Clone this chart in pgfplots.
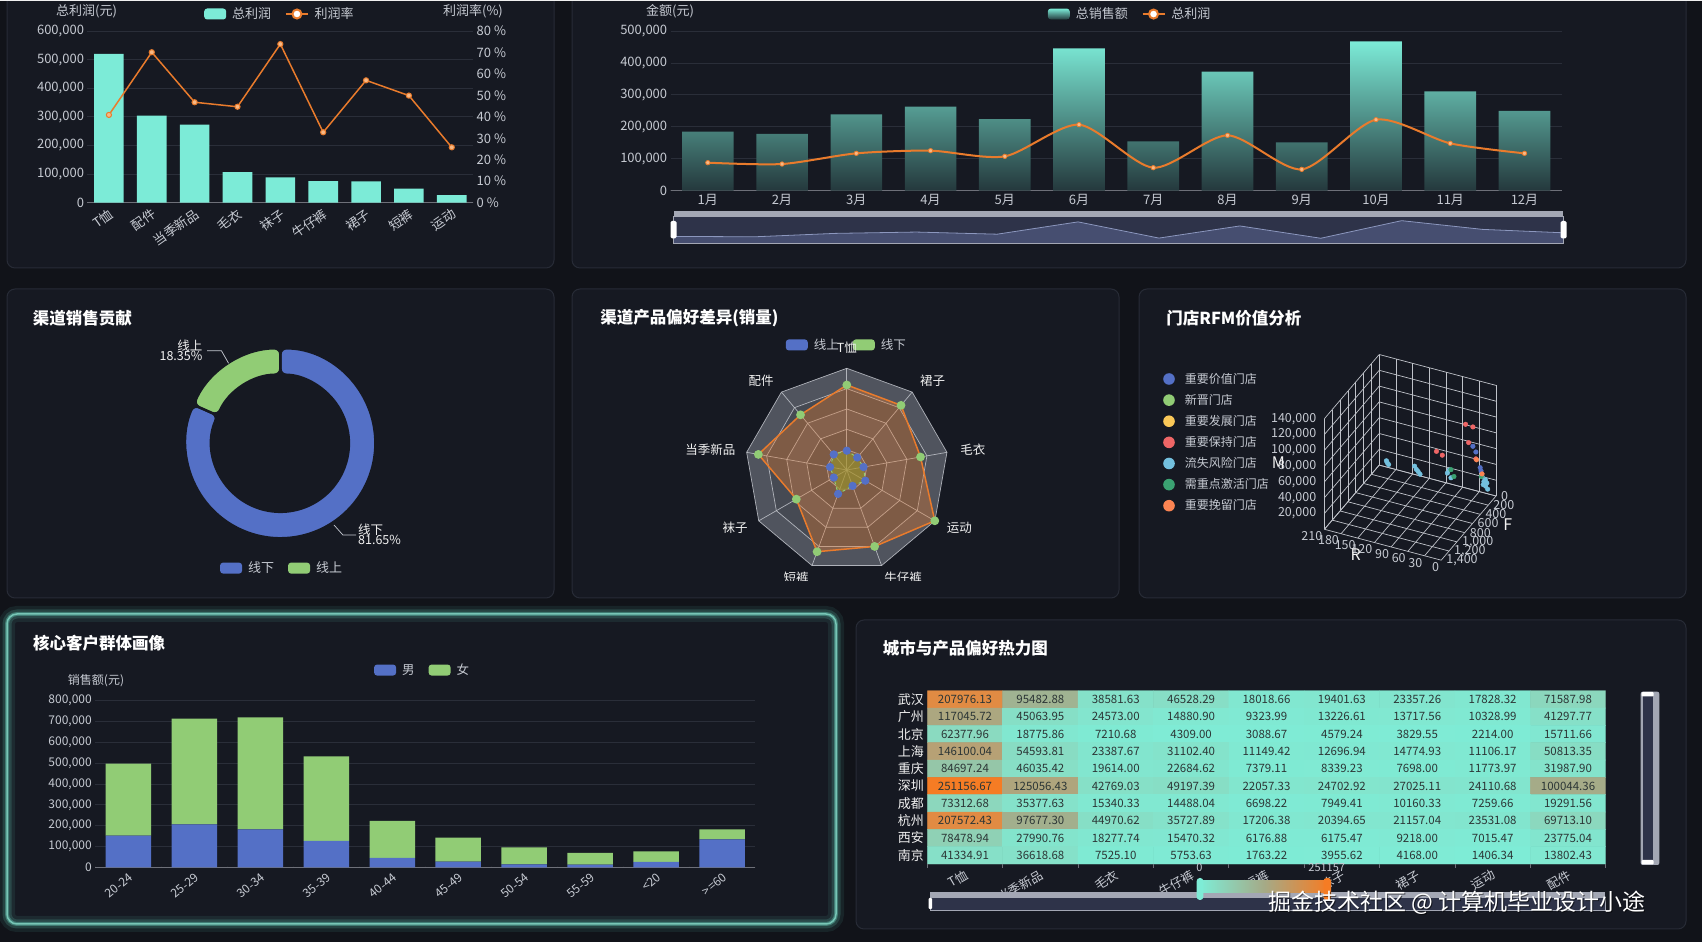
\documentclass[border=0pt]{standalone}
\usepackage{fontspec}
\setmainfont{Noto Sans CJK SC}
\usepackage{pgfplots}
\usepackage{pgfplotstable}
\pgfplotsset{compat=1.18}

\definecolor{bgc}{HTML}{111319}
\definecolor{panelc}{HTML}{161922}
\definecolor{pborder}{HTML}{272B36}
\definecolor{tickc}{HTML}{C6CAD2}
\definecolor{gridc}{HTML}{2A2E39}
\definecolor{axisc}{HTML}{6E7079}
\definecolor{aqua}{HTML}{7CEBD7}
\definecolor{barbot}{HTML}{24383C}
\definecolor{orng}{HTML}{E97B2C}
\definecolor{orngl}{HTML}{F8B985}
\definecolor{eblue}{HTML}{5470C6}
\definecolor{egreen}{HTML}{91CC75}
\definecolor{eyellow}{HTML}{FAC858}
\definecolor{ered}{HTML}{EE6666}
\definecolor{ecyan}{HTML}{73C0DE}
\definecolor{edkgreen}{HTML}{3BA272}
\definecolor{eorange}{HTML}{FC8452}
\definecolor{radarA}{HTML}{50545E}
\definecolor{radarB}{HTML}{464A53}
\definecolor{radarline}{HTML}{C3C6CD}
\definecolor{slbar}{HTML}{A3A7B4}
\definecolor{slbg}{HTML}{2E3349}
\definecolor{slarea}{HTML}{464E70}
\definecolor{slline}{HTML}{8C97BE}
\definecolor{glow}{HTML}{5EC1AE}
\definecolor{celltext}{HTML}{2C3636}
\definecolor{grid3d}{HTML}{BFC2C9}
\definecolor{heatlow}{HTML}{7EECD6}
\definecolor{heatmid}{HTML}{A5AA87}
\definecolor{heathi}{HTML}{F57C24}

\newcommand{\fs}[1]{\fontsize{#1}{#1}\selectfont}

\pgfplotsset{
  every axis/.append style={
    scale only axis,
    /pgf/number format/assume math mode=true,
    tick label style={text=tickc, font=\fs{13}},
    axis line style={draw=axisc, line width=0.8pt},
    grid style={draw=gridc, line width=0.8pt},
    tick style={draw=none},
    major tick length=0pt,
    legend columns=-1,
    legend cell align=left,
    legend style={draw=none, fill=none, text=tickc, font=\fs{13},
      /tikz/every odd column/.append style={column sep=4pt},
      /tikz/every even column/.append style={column sep=12pt}},
  },
  boxlegend/.style={legend image code/.code={\fill[##1, draw=none, rounded corners=3pt] (0pt,-5.5pt) rectangle (22pt,5.5pt);}},
  dotlegend/.style={legend image code/.code={\fill[##1, draw=none] (6pt,0pt) circle (5.8pt);}},
}

\pgfplotstableread{
x y v
0 0 207976.13
1 0 95482.88
2 0 38581.63
3 0 46528.29
4 0 18018.66
5 0 19401.63
6 0 23357.26
7 0 17828.32
8 0 71587.98
0 1 117045.72
1 1 45063.95
2 1 24573.00
3 1 14880.90
4 1 9323.99
5 1 13226.61
6 1 13717.56
7 1 10328.99
8 1 41297.77
0 2 62377.96
1 2 18775.86
2 2 7210.68
3 2 4309.00
4 2 3088.67
5 2 4579.24
6 2 3829.55
7 2 2214.00
8 2 15711.66
0 3 146100.04
1 3 54593.81
2 3 23387.67
3 3 31102.40
4 3 11149.42
5 3 12696.94
6 3 14774.93
7 3 11106.17
8 3 50813.35
0 4 84697.24
1 4 46035.42
2 4 19614.00
3 4 22684.62
4 4 7379.11
5 4 8339.23
6 4 7698.00
7 4 11773.97
8 4 31987.90
0 5 251156.67
1 5 125056.43
2 5 42769.03
3 5 49197.39
4 5 22057.33
5 5 24702.92
6 5 27025.11
7 5 24110.68
8 5 100044.36
0 6 73312.68
1 6 35377.63
2 6 15340.33
3 6 14488.04
4 6 6698.22
5 6 7949.41
6 6 10160.33
7 6 7259.66
8 6 19291.56
0 7 207572.43
1 7 97677.30
2 7 44970.62
3 7 35727.89
4 7 17206.38
5 7 20394.65
6 7 21157.04
7 7 23531.08
8 7 69713.10
0 8 78478.94
1 8 27990.76
2 8 18277.74
3 8 15470.32
4 8 6176.88
5 8 6175.47
6 8 9218.00
7 8 7015.47
8 8 23775.04
0 9 41334.91
1 9 36618.68
2 9 7525.10
3 9 5753.63
4 9 1763.22
5 9 3955.62
6 9 4168.00
7 9 1406.34
8 9 13802.43
}\heat

\def\offline{81.65}
\def\online{18.35}

\begin{document}
\begin{tikzpicture}[x=1pt,y=1pt]
\path[use as bounding box] (0,0) rectangle (1702,942);
\clip (0,0) rectangle (1702,942);
\fill[bgc] (0,0) rectangle (1702,942);

\coordinate (tlpos) at (87.5,739.3);
\coordinate (trpos) at (670.7,751.3);
\coordinate (slpos) at (673.6,698.7);
\coordinate (dnpos) at (280.4,498.7);
\coordinate (rdpos) at (846.8,472);
\coordinate (tdpos) at (1496,446);
\coordinate (lgpos) at (1163,571);
\coordinate (blpos) at (95.3,74.7);
\coordinate (hmpos) at (927.3,78);

% ---------- panels ----------
\fill[panelc, draw=pborder, line width=1pt, rounded corners=8pt] (7,674) rectangle (554,955);
\fill[panelc, draw=pborder, line width=1pt, rounded corners=8pt] (572,674) rectangle (1686,955);
\fill[panelc, draw=pborder, line width=1pt, rounded corners=8pt] (7,344) rectangle (554,653);
\fill[panelc, draw=pborder, line width=1pt, rounded corners=8pt] (572,344) rectangle (1119,653);
\fill[panelc, draw=pborder, line width=1pt, rounded corners=8pt] (1139,344) rectangle (1686,653);
\fill[panelc, draw=pborder, line width=1pt, rounded corners=8pt] (856,13) rectangle (1686,322);
\fill[panelc, rounded corners=10pt] (7,18) rectangle (836,328);
\draw[glow, opacity=0.10, line width=16pt, rounded corners=10pt] (7,18) rectangle (836,328);
\draw[glow, opacity=0.20, line width=9pt, rounded corners=10pt] (7,18) rectangle (836,328);
\draw[glow, opacity=0.45, line width=4pt, rounded corners=10pt] (7,18) rectangle (836,328);
\draw[glow!80!white, opacity=0.9, line width=1.5pt, rounded corners=10pt] (7,18) rectangle (836,328);
\fill[white!88!gray] (0,940.5) rectangle (1702,942);

% ---------- top-left: profit by category ----------
\begin{axis}[at={(tlpos)}, anchor=south west, width=385.7pt, height=171.7pt,
  xmin=-0.5, xmax=8.5, ymin=0, ymax=600000, ytick={0,100000,...,600000},
  scaled y ticks=false, yticklabel style={/pgf/number format/fixed},
  ymajorgrids, axis x line*=bottom, axis y line*=left, y axis line style={draw=none},
  xtick={0,...,8}, xticklabels={T恤,配件,当季新品,毛衣,袜子,牛仔裤,裙子,短裤,运动},
  xticklabel style={rotate=35, anchor=north east}]
\addplot[ybar, bar width=29.6pt, fill=aqua, draw=none] coordinates {(0,519600) (1,304000) (2,272600) (3,107200) (4,88500) (5,75700) (6,74600) (7,48900) (8,26800)};
\pgfplotsinvokeforeach{-0.5,0.5,1.5,2.5,3.5,4.5,5.5,6.5,7.5,8.5}{\draw[axisc, line width=0.8pt] (axis cs:#1,0) -- ++(0,-5pt);}
\end{axis}
\begin{axis}[at={(tlpos)}, anchor=south west, width=385.7pt, height=171.7pt,
  xmin=-0.5, xmax=8.5, ymin=0, ymax=80, ytick={0,10,...,80},
  axis y line*=right, axis x line=none, y axis line style={draw=none},
  yticklabel={\pgfmathprintnumber[fixed]{\tick}~\%},
  legend style={at={(0.499,1.099)}, anchor=center}]
\addlegendimage{boxlegend, fill=aqua}\addlegendentry{总利润}
\addplot[orng, line width=1.5pt, mark=*, mark size=2.6pt, mark options={fill=orngl, draw=orng, line width=1pt},
  legend image code/.code={\draw[orng, line width=1.5pt] (0pt,0pt) -- (22pt,0pt); \draw[orng, fill=white, line width=2pt] (11pt,0pt) circle (4.5pt);}]
  coordinates {(0,40.9) (1,70.1) (2,46.8) (3,44.7) (4,73.9) (5,32.8) (6,57.0) (7,49.9) (8,25.8)};
\addlegendentry{利润率}
\end{axis}
\node[font=\fs{13}, text=tickc] at (86.6,930.3) {总利润(元)};
\node[font=\fs{13}, text=tickc] at (473,930.3) {利润率(\%)};

% ---------- top-right: monthly sales ----------
\begin{axis}[at={(trpos)}, anchor=south west, width=890.9pt, height=159.7pt,
  xmin=-0.5, xmax=11.5, ymin=0, ymax=500000, ytick={0,100000,...,500000},
  scaled y ticks=false, yticklabel style={/pgf/number format/fixed},
  ymajorgrids, axis x line*=bottom, axis y line*=left, y axis line style={draw=none},
  xtick={0,...,11}, xticklabels={1月,2月,3月,4月,5月,6月,7月,8月,9月,10月,11月,12月},
  legend style={at={(0.5156,1.106)}, anchor=center}]
\addplot[ybar, bar width=51.6pt, draw=none, top color=aqua, bottom color=barbot,
  legend image code/.code={\fill[top color=aqua, bottom color=barbot, rounded corners=3pt] (0pt,-5.5pt) rectangle (22pt,5.5pt);}]
  coordinates {(0,184800) (1,177500) (2,239000) (3,263000) (4,224400) (5,445700) (6,154500) (7,372700) (8,151400) (9,467600) (10,311000) (11,249500)};
\addlegendentry{总销售额}
\addplot[orng, line width=2pt, smooth, tension=0.45, mark=*, mark size=2.2pt, mark options={fill=orngl, draw=orng, line width=0.8pt},
  legend image code/.code={\draw[orng, line width=1.5pt] (0pt,0pt) -- (22pt,0pt); \draw[orng, fill=white, line width=2pt] (11pt,0pt) circle (4.5pt);}]
  coordinates {(0,87700) (1,83500) (2,116900) (3,125300) (4,107500) (5,206700) (6,72000) (7,173300) (8,66800) (9,222300) (10,148200) (11,116900)};
\addlegendentry{总利润}
\pgfplotsinvokeforeach{-0.5,0.5,1.5,2.5,3.5,4.5,5.5,6.5,7.5,8.5,9.5,10.5,11.5}{\draw[axisc, line width=0.8pt] (axis cs:#1,0) -- ++(0,-5pt);}
\end{axis}
\node[font=\fs{13}, text=tickc] at (670,930.3) {金额(元)};

% slider
\fill[slbg] (673.6,698.7) rectangle (1563.4,725.3);
\begin{axis}[at={(slpos)}, anchor=south west, width=889.8pt, height=26.6pt,
  xmin=0, xmax=11, ymin=61000, ymax=539000, hide axis]
\addplot[fill=slarea, draw=none] coordinates {(0,184800) (1,177500) (2,239000) (3,263000) (4,224400) (5,445700) (6,154500) (7,372700) (8,151400) (9,467600) (10,311000) (11,249500)} \closedcycle;
\addplot[slline, line width=0.8pt] coordinates {(0,184800) (1,177500) (2,239000) (3,263000) (4,224400) (5,445700) (6,154500) (7,372700) (8,151400) (9,467600) (10,311000) (11,249500)};
\end{axis}
\draw[slbar, line width=0.8pt] (673.6,698.7) rectangle (1563.4,725.3);
\fill[slbar] (673.6,725.3) rectangle (1563.4,731.3);
\fill[white, rounded corners=1.5pt] (670.5,703.5) rectangle (676.5,721);
\fill[white, rounded corners=1.5pt] (1560.5,703.5) rectangle (1566.5,721);

% ---------- donut ----------
\node[font=\fs{16.5}\bfseries, text=white, anchor=west] at (29.3,623.7) {渠道销售贡献};
\pgfmathsetmacro{\aend}{90-3.6*\offline}
\begin{axis}[at={(dnpos)}, anchor=center, x=1pt, y=1pt,
  xmin=-120, xmax=120, ymin=-120, ymax=120, hide axis, clip=false,
  legend style={at={(0.507,-0.02)}, anchor=center}]
\addlegendimage{boxlegend, fill=eblue}\addlegendentry{线下}
\addlegendimage{boxlegend, fill=egreen}\addlegendentry{线上}
\fill[eblue, draw=panelc, line width=2.5pt, rounded corners=6pt] (axis cs:0,95) arc[start angle=90, end angle=\aend, radius=95pt] -- (axis cs:{68.5*cos(\aend)},{68.5*sin(\aend)}) arc[start angle=\aend, end angle=90, radius=68.5pt] -- cycle;
\fill[egreen, draw=panelc, line width=2.5pt, rounded corners=6pt] (axis cs:{95*cos(\aend)},{95*sin(\aend)}) arc[start angle=\aend, end angle=-270, radius=95pt] -- (axis cs:0,68.5) arc[start angle=90, end angle={\aend+360}, radius=68.5pt] -- cycle;
\end{axis}
\draw[tickc, line width=0.7pt] (207,591.3) -- (221.4,591.3) -- (228.6,578.7);
\node[font=\fs{12.5}, text=white!90!gray, anchor=east, inner sep=0pt] at (202.5,596.3) {线上};
\node[font=\fs{12.5}, text=white!90!gray, anchor=east, inner sep=0pt] at (202.5,585.8) {18.35\%};
\draw[tickc, line width=0.7pt] (334,417) -- (342.9,407) -- (356,407);
\node[font=\fs{12.5}, text=white!90!gray, anchor=west, inner sep=0pt] at (358,412.7) {线下};
\node[font=\fs{12.5}, text=white!90!gray, anchor=west, inner sep=0pt] at (358,402.5) {81.65\%};

% ---------- radar ----------
\node[font=\fs{16.5}\bfseries, text=white, anchor=west] at (596.8,623.7) {渠道产品偏好差异(销量)};
\begin{scope}[shift={(846.8,472)}]
\foreach \r/\c in {101.7/radarA, 81.36/radarB, 61.02/radarA, 40.68/radarB, 20.34/radarA}{
  \fill[\c] (90:\r) -- (130:\r) -- (170:\r) -- (210:\r) -- (250:\r) -- (290:\r) -- (330:\r) -- (10:\r) -- (50:\r) -- cycle;
}
\foreach \r in {101.7, 81.36, 61.02, 40.68, 20.34}{
  \draw[radarline, line width=0.7pt, opacity=0.85] (90:\r) -- (130:\r) -- (170:\r) -- (210:\r) -- (250:\r) -- (290:\r) -- (330:\r) -- (10:\r) -- (50:\r) -- cycle;
}
\foreach \a in {90,130,170,210,250,290,330,10,50}{
  \draw[radarline, line width=0.7pt, opacity=0.85] (0,0) -- (\a:101.7);
}
\end{scope}
\begin{axis}[at={(rdpos)}, anchor=center, x=1.017pt, y=1.017pt,
  xmin=-130, xmax=130, ymin=-130, ymax=130, hide axis, clip=false,
  legend style={at={(0.5,0.973)}, anchor=center, font=\fs{12.5}}]
\addlegendimage{boxlegend, fill=eblue}\addlegendentry{线上}
\addlegendimage{boxlegend, fill=egreen}\addlegendentry{线下}
\addplot[forget plot, data cs=polar, draw=orng, line width=1.5pt, fill=orng, fill opacity=0.35,
  mark=*, mark size=3.6pt, mark options={fill=egreen, draw=egreen, fill opacity=1}]
  coordinates {(90,83.6) (130,70.8) (170,88.3) (210,57.3) (250,85.5) (290,80.0) (330,99.9) (370,73.6) (410,83.0)} -- cycle;
\addplot[forget plot, data cs=polar, draw=egreen, dashed, line width=1pt, fill=olive!70!egreen, fill opacity=0.55,
  mark=*, mark size=3.6pt, mark options={solid, fill=eblue, draw=eblue, fill opacity=1}]
  coordinates {(90,19) (130,20) (170,16.7) (210,14.8) (250,25) (290,16.6) (330,21) (370,16.7) (410,16)} -- cycle;
\end{axis}
\begin{scope}[every node/.style={font=\fs{12.5}, text=white!88!gray}]
\node at (846.8,594.5) {T恤};
\node at (761,561) {配件};
\node at (932.5,561) {裙子};
\node at (710.4,492) {当季新品};
\node at (972.9,492) {毛衣};
\node at (735,414.3) {袜子};
\node at (959.3,414.3) {运动};
\begin{scope}
\clip (700,361.5) rectangle (1000,400);
\node at (796,364.3) {短裤};
\node at (903.2,364.3) {牛仔裤};
\end{scope}
\end{scope}

% ---------- 3D RFM ----------
\node[font=\fs{16.5}\bfseries, text=white, anchor=west] at (1162.8,623.7) {门店RFM价值分析};
\begin{axis}[at={(tdpos)}, anchor=origin,
  x={(-0.5562pt,0.1471pt)}, y={(-0.03914pt,-0.04586pt)}, z={(0pt,0.79pt)},
  xmin=0, xmax=210, ymin=0, ymax=1400, zmin=0, zmax=140,
  xtick={0,30,...,210}, ytick={0,200,...,1400}, ztick={0,20,...,140},
  xticklabels={}, yticklabels={}, zticklabels={},
  grid=major, grid style={draw=grid3d, line width=0.7pt},
  axis line style={draw=none}, clip=false]
\addplot3[only marks, mark=*, mark size=2.3pt, ecyan] coordinates {(188.6,100,12.9) (190,100,15) (186,100,11) (139.3,100,17.6) (136.1,100,14.1) (129.6,100,9.3) (133,100,12) (80.4,100,19.9) (73.9,100,15.1) (77.1,100,24.4) (18,100,26.9) (14.7,100,21.5) (11.5,100,16.1) (16,100,17.2) (9.5,100,20.4) (12,100,24) (8,100,13)};
\addplot3[only marks, mark=*, mark size=2.3pt, ered] coordinates {(40.6,200,94.8) (27.5,200,93.9) (35.2,200,72.7) (93,200,50.8) (82.5,200,47.9) (22.1,200,54.5)};
\addplot3[only marks, mark=*, mark size=2.3pt, eblue] coordinates {(27.5,200,69.4) (22.1,200,63.2) (14.4,200,44.8) (12.9,200,41)};
\addplot3[only marks, mark=*, mark size=2.3pt, edkgreen] coordinates {(66.9,200,32.5) (61.5,200,24.8) (12.4,200,34)};
\addplot3[only marks, mark=*, mark size=2.3pt, eorange] coordinates {(20.9,200,53.5) (11,200,37.5)};
\pgfplotsinvokeforeach{20,40,60,80,100,120,140}{\node[anchor=east, font=\fs{12.5}, text=tickc, inner sep=1pt] at (axis cs:210,1400,#1) [xshift=-7pt] {\pgfmathprintnumber[fixed]{#1000}};}
\pgfplotsinvokeforeach{0,30,60,90,120,150,180,210}{\node[anchor=north east, font=\fs{12.5}, text=tickc, inner sep=1pt] at (axis cs:#1,1400,0) [xshift=-1pt, yshift=-1pt] {#1};}
\pgfplotsinvokeforeach{0,200,400,600,800,1000,1200,1400}{\node[anchor=west, font=\fs{12.5}, text=tickc, inner sep=1pt] at (axis cs:0,#1,0) [xshift=4pt] {\pgfmathprintnumber[fixed]{#1}};}
\node[font=\fs{16}, text=white!90!gray] at (axis cs:210,1400,85) [xshift=-46pt] {M};
\node[font=\fs{16}, text=white!90!gray] at (axis cs:105,1400,0) [xshift=-27pt, yshift=-10pt] {R};
\node[font=\fs{16}, text=white!90!gray] at (axis cs:0,800,0) [xshift=43pt, yshift=8pt] {F};
\end{axis}
\begin{axis}[at={(lgpos)}, anchor=north west, width=5pt, height=5pt, hide axis,
  xmin=0, xmax=1, ymin=0, ymax=1, legend columns=1,
  legend style={at={(0,1)}, anchor=north west, font=\fs{12}, inner sep=0pt, row sep=5.5pt,
   /tikz/every odd column/.append style={column sep=8pt}}]
\addlegendimage{dotlegend, fill=eblue}\addlegendentry{重要价值门店}
\addlegendimage{dotlegend, fill=egreen}\addlegendentry{新晋门店}
\addlegendimage{dotlegend, fill=eyellow}\addlegendentry{重要发展门店}
\addlegendimage{dotlegend, fill=ered}\addlegendentry{重要保持门店}
\addlegendimage{dotlegend, fill=ecyan}\addlegendentry{流失风险门店}
\addlegendimage{dotlegend, fill=edkgreen}\addlegendentry{需重点激活门店}
\addlegendimage{dotlegend, fill=eorange}\addlegendentry{重要挽留门店}
\end{axis}

% ---------- bottom-left: stacked bars ----------
\node[font=\fs{16.5}\bfseries, text=white, anchor=west] at (29.5,298.7) {核心客户群体画像};
\begin{axis}[at={(blpos)}, anchor=south west, width=659.9pt, height=166.6pt,
  ybar stacked, bar width=45.5pt,
  xmin=-0.5, xmax=9.5, ymin=0, ymax=800000, ytick={0,100000,...,800000},
  scaled y ticks=false, yticklabel style={/pgf/number format/fixed, font=\fs{12}},
  ymajorgrids, axis x line*=bottom, axis y line*=left, y axis line style={draw=none},
  xtick={0,...,9}, xticklabels={20-24,25-29,30-34,35-39,40-44,45-49,50-54,55-59,<20,>=60},
  xticklabel style={rotate=40, anchor=north east, font=\fs{12}},
  legend style={at={(0.496,1.184)}, anchor=center, font=\fs{12.5}}]
\addplot[fill=eblue, draw=none, boxlegend] coordinates {(0,152000) (1,206400) (2,182400) (3,126400) (4,44800) (5,27200) (6,14400) (7,12800) (8,25600) (9,134400)};
\addlegendentry{男}
\addplot[fill=egreen, draw=none, boxlegend] coordinates {(0,345600) (1,507200) (2,537600) (3,406400) (4,177600) (5,115200) (6,81600) (7,56000) (8,51200) (9,48000)};
\addlegendentry{女}
\pgfplotsinvokeforeach{-0.5,0.5,1.5,2.5,3.5,4.5,5.5,6.5,7.5,8.5,9.5}{\draw[axisc, line width=0.8pt] (axis cs:#1,0) -- ++(0,-5pt);}
\end{axis}
\node[font=\fs{12}, text=tickc] at (96,261) {销售额(元)};

% ---------- heatmap ----------
\node[font=\fs{16.5}\bfseries, text=white, anchor=west] at (879.3,293.7) {城市与产品偏好热力图};
\begin{axis}[at={(hmpos)}, anchor=south west, width=678.4pt, height=173.3pt,
  xmin=-0.5, xmax=8.5, ymin=-0.5, ymax=9.5, y dir=reverse,
  axis line style={draw=none},
  xtick={0,...,8}, xticklabels={T恤,当季新品,毛衣,牛仔裤,短裤,袜子,裙子,运动,配件},
  xticklabel style={rotate=30, anchor=north east, font=\fs{12.5}},
  ytick={0,...,9}, yticklabels={武汉,广州,北京,上海,重庆,深圳,成都,杭州,西安,南京},
  yticklabel style={font=\fs{13}, text=white!88!gray},
  colormap={heat}{rgb255(0cm)=(126,236,214); rgb255(3cm)=(140,214,188); rgb255(4cm)=(165,170,135); rgb255(6cm)=(185,160,115); rgb255(8cm)=(222,141,72); rgb255(10cm)=(245,124,36)},
  point meta min=0, point meta max=251156.67]
\addplot[matrix plot*, mesh/cols=9, mesh/rows=10, point meta=explicit] table[x=x, y=y, meta=v] {\heat};
\addplot[draw=none, mark=none, nodes near coords, point meta=explicit symbolic, nodes near coords align={center},
  nodes near coords style={font=\fs{11.5}, text=celltext, inner sep=0pt}] table[x=x, y=y, meta=v] {\heat};
\end{axis}
\foreach \k in {0,...,9}{\draw[axisc, line width=0.8pt] ({927.3+75.378*\k},78) -- ++(0,-4);}
% horizontal datazoom
\fill[slbg] (930,32) rectangle (1605,45);
\draw[slbar, line width=0.8pt] (930,32) rectangle (1605,45);
\fill[slbar] (930,45) rectangle (1605,50.3);
\fill[white, rounded corners=1pt] (928.5,33) rectangle (932,44);
% visual map
\shade[left color=heatlow, right color=heathi, middle color=heatmid] (1200,49) rectangle (1328,61);
\fill[heatlow, rounded corners=3pt] (1196.7,42) rectangle (1203.3,64);
\fill[heathi, rounded corners=3pt] (1323.5,42) rectangle (1331,64);
\node[font=\fs{11}, text=tickc] at (1199.3,74.5) {0};
\node[font=\fs{11}, text=tickc] at (1326.7,74.5) {251157};
% vertical datazoom
\fill[slbar, rounded corners=2pt] (1640.7,77) rectangle (1659.3,250.3);
\fill[slbg] (1642.5,79.5) rectangle (1652.5,247.8);
\fill[white, rounded corners=1pt] (1641.5,245.5) rectangle (1653.5,250);
\fill[white, rounded corners=1pt] (1641.5,77.5) rectangle (1653.5,82);

% watermark
\node[font=\fs{23}, text=black, opacity=0.55, anchor=west] at (1265.6,38) {掘金技术社区 @ 计算机毕业设计小途};
\node[font=\fs{23}, text=white, anchor=west] at (1264.6,39) {掘金技术社区 @ 计算机毕业设计小途};
\end{tikzpicture}
\end{document}
